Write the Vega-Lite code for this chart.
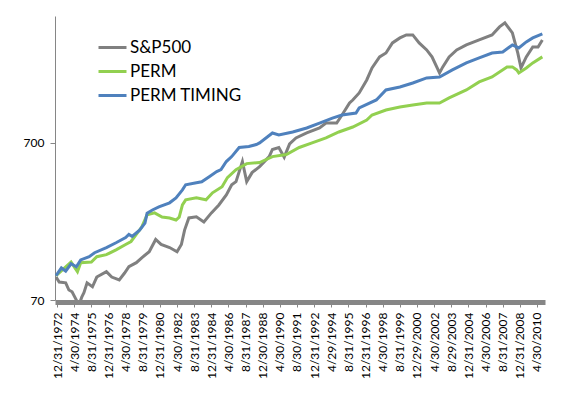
{
  "$schema": "https://vega.github.io/schema/vega-lite/v6.json",
  "width": 490,
  "height": 284,
  "autosize": {"type": "none"},
  "padding": {"left": 55, "top": 16, "right": 21, "bottom": 94},
  "background": "white",
  "config": {"view": {"stroke": null}, "font": "Lato"},
  "data": {"values": [
    {"d": "1972-12-01", "s": "S&P500", "v": 98},
    {"d": "1973-03-01", "s": "S&P500", "v": 91},
    {"d": "1973-09-01", "s": "S&P500", "v": 90},
    {"d": "1973-12-01", "s": "S&P500", "v": 81},
    {"d": "1974-03-01", "s": "S&P500", "v": 79},
    {"d": "1974-07-01", "s": "S&P500", "v": 70},
    {"d": "1974-09-01", "s": "S&P500", "v": 64},
    {"d": "1974-12-01", "s": "S&P500", "v": 73},
    {"d": "1975-02-01", "s": "S&P500", "v": 78},
    {"d": "1975-05-01", "s": "S&P500", "v": 90},
    {"d": "1975-10-01", "s": "S&P500", "v": 85},
    {"d": "1976-02-01", "s": "S&P500", "v": 98},
    {"d": "1976-11-01", "s": "S&P500", "v": 106},
    {"d": "1977-04-01", "s": "S&P500", "v": 98},
    {"d": "1977-11-01", "s": "S&P500", "v": 94},
    {"d": "1978-04-01", "s": "S&P500", "v": 104},
    {"d": "1978-08-01", "s": "S&P500", "v": 114},
    {"d": "1979-03-01", "s": "S&P500", "v": 121},
    {"d": "1979-08-01", "s": "S&P500", "v": 130},
    {"d": "1980-03-01", "s": "S&P500", "v": 142},
    {"d": "1980-09-01", "s": "S&P500", "v": 170},
    {"d": "1981-02-01", "s": "S&P500", "v": 158},
    {"d": "1981-10-01", "s": "S&P500", "v": 151},
    {"d": "1982-05-01", "s": "S&P500", "v": 142},
    {"d": "1982-09-01", "s": "S&P500", "v": 158},
    {"d": "1982-12-01", "s": "S&P500", "v": 195},
    {"d": "1983-04-01", "s": "S&P500", "v": 233},
    {"d": "1983-11-01", "s": "S&P500", "v": 237},
    {"d": "1984-06-01", "s": "S&P500", "v": 220},
    {"d": "1985-01-01", "s": "S&P500", "v": 251},
    {"d": "1985-08-01", "s": "S&P500", "v": 282},
    {"d": "1986-03-01", "s": "S&P500", "v": 327},
    {"d": "1986-08-01", "s": "S&P500", "v": 379},
    {"d": "1986-12-01", "s": "S&P500", "v": 397},
    {"d": "1987-06-01", "s": "S&P500", "v": 533},
    {"d": "1987-10-01", "s": "S&P500", "v": 397},
    {"d": "1988-03-01", "s": "S&P500", "v": 453},
    {"d": "1988-10-01", "s": "S&P500", "v": 495},
    {"d": "1989-07-01", "s": "S&P500", "v": 573},
    {"d": "1989-10-01", "s": "S&P500", "v": 636},
    {"d": "1990-04-01", "s": "S&P500", "v": 655},
    {"d": "1990-09-01", "s": "S&P500", "v": 568},
    {"d": "1991-02-01", "s": "S&P500", "v": 690},
    {"d": "1991-08-01", "s": "S&P500", "v": 753},
    {"d": "1992-06-01", "s": "S&P500", "v": 810},
    {"d": "1993-06-01", "s": "S&P500", "v": 871},
    {"d": "1993-12-01", "s": "S&P500", "v": 937},
    {"d": "1994-10-01", "s": "S&P500", "v": 937},
    {"d": "1995-03-01", "s": "S&P500", "v": 1054},
    {"d": "1995-10-01", "s": "S&P500", "v": 1257},
    {"d": "1996-01-01", "s": "S&P500", "v": 1314},
    {"d": "1996-07-01", "s": "S&P500", "v": 1457},
    {"d": "1997-02-01", "s": "S&P500", "v": 1762},
    {"d": "1997-07-01", "s": "S&P500", "v": 2102},
    {"d": "1998-02-01", "s": "S&P500", "v": 2471},
    {"d": "1998-08-01", "s": "S&P500", "v": 2617},
    {"d": "1999-02-01", "s": "S&P500", "v": 3032},
    {"d": "1999-09-01", "s": "S&P500", "v": 3264},
    {"d": "2000-03-01", "s": "S&P500", "v": 3410},
    {"d": "2000-09-01", "s": "S&P500", "v": 3410},
    {"d": "2001-03-01", "s": "S&P500", "v": 3032},
    {"d": "2001-10-01", "s": "S&P500", "v": 2736},
    {"d": "2002-03-01", "s": "S&P500", "v": 2471},
    {"d": "2002-10-01", "s": "S&P500", "v": 1953},
    {"d": "2003-01-01", "s": "S&P500", "v": 2134},
    {"d": "2003-07-01", "s": "S&P500", "v": 2471},
    {"d": "2004-02-01", "s": "S&P500", "v": 2736},
    {"d": "2004-11-01", "s": "S&P500", "v": 2944},
    {"d": "2005-11-01", "s": "S&P500", "v": 3169},
    {"d": "2006-11-01", "s": "S&P500", "v": 3410},
    {"d": "2007-06-01", "s": "S&P500", "v": 3837},
    {"d": "2007-11-01", "s": "S&P500", "v": 4069},
    {"d": "2008-06-01", "s": "S&P500", "v": 3512},
    {"d": "2008-11-01", "s": "S&P500", "v": 2617},
    {"d": "2009-02-01", "s": "S&P500", "v": 2102},
    {"d": "2009-07-01", "s": "S&P500", "v": 2471},
    {"d": "2010-01-01", "s": "S&P500", "v": 2859},
    {"d": "2010-06-01", "s": "S&P500", "v": 2859},
    {"d": "2010-10-01", "s": "S&P500", "v": 3169},

    {"d": "1972-12-01", "s": "PERM", "v": 100},
    {"d": "1974-02-01", "s": "PERM", "v": 122},
    {"d": "1974-08-01", "s": "PERM", "v": 106},
    {"d": "1974-11-01", "s": "PERM", "v": 121},
    {"d": "1975-09-01", "s": "PERM", "v": 122},
    {"d": "1976-02-01", "s": "PERM", "v": 132},
    {"d": "1976-11-01", "s": "PERM", "v": 136},
    {"d": "1977-08-01", "s": "PERM", "v": 146},
    {"d": "1978-05-01", "s": "PERM", "v": 158},
    {"d": "1978-10-01", "s": "PERM", "v": 165},
    {"d": "1979-03-01", "s": "PERM", "v": 183},
    {"d": "1979-08-01", "s": "PERM", "v": 204},
    {"d": "1980-01-01", "s": "PERM", "v": 244},
    {"d": "1980-08-01", "s": "PERM", "v": 251},
    {"d": "1981-03-01", "s": "PERM", "v": 236},
    {"d": "1981-10-01", "s": "PERM", "v": 233},
    {"d": "1982-04-01", "s": "PERM", "v": 226},
    {"d": "1982-07-01", "s": "PERM", "v": 236},
    {"d": "1982-10-01", "s": "PERM", "v": 282},
    {"d": "1983-01-01", "s": "PERM", "v": 304},
    {"d": "1983-11-01", "s": "PERM", "v": 313},
    {"d": "1984-08-01", "s": "PERM", "v": 304},
    {"d": "1985-02-01", "s": "PERM", "v": 337},
    {"d": "1985-11-01", "s": "PERM", "v": 368},
    {"d": "1986-04-01", "s": "PERM", "v": 421},
    {"d": "1986-12-01", "s": "PERM", "v": 473},
    {"d": "1987-10-01", "s": "PERM", "v": 517},
    {"d": "1988-10-01", "s": "PERM", "v": 525},
    {"d": "1989-10-01", "s": "PERM", "v": 573},
    {"d": "1990-11-01", "s": "PERM", "v": 590},
    {"d": "1991-11-01", "s": "PERM", "v": 655},
    {"d": "1992-11-01", "s": "PERM", "v": 700},
    {"d": "1993-12-01", "s": "PERM", "v": 753},
    {"d": "1994-12-01", "s": "PERM", "v": 822},
    {"d": "1996-01-01", "s": "PERM", "v": 884},
    {"d": "1997-02-01", "s": "PERM", "v": 979},
    {"d": "1997-07-01", "s": "PERM", "v": 1054},
    {"d": "1998-08-01", "s": "PERM", "v": 1134},
    {"d": "1999-09-01", "s": "PERM", "v": 1186},
    {"d": "2000-09-01", "s": "PERM", "v": 1221},
    {"d": "2001-10-01", "s": "PERM", "v": 1257},
    {"d": "2002-10-01", "s": "PERM", "v": 1257},
    {"d": "2003-07-01", "s": "PERM", "v": 1354},
    {"d": "2004-11-01", "s": "PERM", "v": 1522},
    {"d": "2005-11-01", "s": "PERM", "v": 1711},
    {"d": "2006-11-01", "s": "PERM", "v": 1841},
    {"d": "2008-01-01", "s": "PERM", "v": 2134},
    {"d": "2008-06-01", "s": "PERM", "v": 2134},
    {"d": "2008-10-01", "s": "PERM", "v": 2042},
    {"d": "2008-12-01", "s": "PERM", "v": 1953},
    {"d": "2009-07-01", "s": "PERM", "v": 2102},
    {"d": "2010-01-01", "s": "PERM", "v": 2263},
    {"d": "2010-10-01", "s": "PERM", "v": 2471},

    {"d": "1972-12-01", "s": "PERM TIMING", "v": 100},
    {"d": "1973-05-01", "s": "PERM TIMING", "v": 112},
    {"d": "1973-09-01", "s": "PERM TIMING", "v": 107},
    {"d": "1974-02-01", "s": "PERM TIMING", "v": 119},
    {"d": "1974-07-01", "s": "PERM TIMING", "v": 114},
    {"d": "1974-11-01", "s": "PERM TIMING", "v": 126},
    {"d": "1975-07-01", "s": "PERM TIMING", "v": 132},
    {"d": "1975-12-01", "s": "PERM TIMING", "v": 140},
    {"d": "1976-11-01", "s": "PERM TIMING", "v": 151},
    {"d": "1977-08-01", "s": "PERM TIMING", "v": 162},
    {"d": "1978-05-01", "s": "PERM TIMING", "v": 175},
    {"d": "1978-08-01", "s": "PERM TIMING", "v": 183},
    {"d": "1978-11-01", "s": "PERM TIMING", "v": 178},
    {"d": "1979-06-01", "s": "PERM TIMING", "v": 195},
    {"d": "1979-11-01", "s": "PERM TIMING", "v": 216},
    {"d": "1980-01-01", "s": "PERM TIMING", "v": 250},
    {"d": "1980-06-01", "s": "PERM TIMING", "v": 262},
    {"d": "1980-12-01", "s": "PERM TIMING", "v": 274},
    {"d": "1981-10-01", "s": "PERM TIMING", "v": 291},
    {"d": "1982-04-01", "s": "PERM TIMING", "v": 313},
    {"d": "1982-10-01", "s": "PERM TIMING", "v": 352},
    {"d": "1983-01-01", "s": "PERM TIMING", "v": 379},
    {"d": "1983-11-01", "s": "PERM TIMING", "v": 391},
    {"d": "1984-04-01", "s": "PERM TIMING", "v": 396},
    {"d": "1984-11-01", "s": "PERM TIMING", "v": 427},
    {"d": "1985-06-01", "s": "PERM TIMING", "v": 460},
    {"d": "1985-10-01", "s": "PERM TIMING", "v": 473},
    {"d": "1986-03-01", "s": "PERM TIMING", "v": 533},
    {"d": "1986-08-01", "s": "PERM TIMING", "v": 573},
    {"d": "1987-03-01", "s": "PERM TIMING", "v": 655},
    {"d": "1987-12-01", "s": "PERM TIMING", "v": 664},
    {"d": "1988-07-01", "s": "PERM TIMING", "v": 684},
    {"d": "1988-10-01", "s": "PERM TIMING", "v": 700},
    {"d": "1989-10-01", "s": "PERM TIMING", "v": 810},
    {"d": "1990-04-01", "s": "PERM TIMING", "v": 787},
    {"d": "1991-05-01", "s": "PERM TIMING", "v": 822},
    {"d": "1992-06-01", "s": "PERM TIMING", "v": 871},
    {"d": "1993-06-01", "s": "PERM TIMING", "v": 937},
    {"d": "1994-06-01", "s": "PERM TIMING", "v": 1008},
    {"d": "1995-03-01", "s": "PERM TIMING", "v": 1054},
    {"d": "1996-04-01", "s": "PERM TIMING", "v": 1085},
    {"d": "1996-07-01", "s": "PERM TIMING", "v": 1168},
    {"d": "1997-11-01", "s": "PERM TIMING", "v": 1314},
    {"d": "1998-08-01", "s": "PERM TIMING", "v": 1522},
    {"d": "1999-09-01", "s": "PERM TIMING", "v": 1591},
    {"d": "2000-09-01", "s": "PERM TIMING", "v": 1686},
    {"d": "2001-10-01", "s": "PERM TIMING", "v": 1815},
    {"d": "2002-10-01", "s": "PERM TIMING", "v": 1841},
    {"d": "2003-10-01", "s": "PERM TIMING", "v": 2042},
    {"d": "2004-11-01", "s": "PERM TIMING", "v": 2263},
    {"d": "2005-11-01", "s": "PERM TIMING", "v": 2435},
    {"d": "2006-11-01", "s": "PERM TIMING", "v": 2617},
    {"d": "2007-09-01", "s": "PERM TIMING", "v": 2656},
    {"d": "2008-06-01", "s": "PERM TIMING", "v": 2944},
    {"d": "2008-12-01", "s": "PERM TIMING", "v": 2817},
    {"d": "2009-07-01", "s": "PERM TIMING", "v": 3077},
    {"d": "2010-01-01", "s": "PERM TIMING", "v": 3264},
    {"d": "2010-10-01", "s": "PERM TIMING", "v": 3461}
  ]},
  "mark": {"type": "line", "strokeWidth": 3, "clip": true},
  "encoding": {
    "x": {
      "field": "d", "type": "temporal",
      "scale": {"type": "utc", "domain": [{"year": 1972, "month": 11, "date": 1, "utc": true}, {"year": 2010, "month": 12, "date": 15, "utc": true}]},
      "axis": {
        "title": null, "grid": false, "offset": 2,
        "values": [
          {"year": 1972, "month": 12, "date": 31, "utc": true},
          {"year": 1974, "month": 4, "date": 30, "utc": true},
          {"year": 1975, "month": 8, "date": 31, "utc": true},
          {"year": 1976, "month": 12, "date": 31, "utc": true},
          {"year": 1978, "month": 4, "date": 30, "utc": true},
          {"year": 1979, "month": 8, "date": 31, "utc": true},
          {"year": 1980, "month": 12, "date": 31, "utc": true},
          {"year": 1982, "month": 4, "date": 30, "utc": true},
          {"year": 1983, "month": 8, "date": 31, "utc": true},
          {"year": 1984, "month": 12, "date": 31, "utc": true},
          {"year": 1986, "month": 4, "date": 30, "utc": true},
          {"year": 1987, "month": 8, "date": 31, "utc": true},
          {"year": 1988, "month": 12, "date": 30, "utc": true},
          {"year": 1990, "month": 4, "date": 30, "utc": true},
          {"year": 1991, "month": 8, "date": 30, "utc": true},
          {"year": 1992, "month": 12, "date": 31, "utc": true},
          {"year": 1994, "month": 4, "date": 29, "utc": true},
          {"year": 1995, "month": 8, "date": 31, "utc": true},
          {"year": 1996, "month": 12, "date": 31, "utc": true},
          {"year": 1998, "month": 4, "date": 30, "utc": true},
          {"year": 1999, "month": 8, "date": 31, "utc": true},
          {"year": 2000, "month": 12, "date": 29, "utc": true},
          {"year": 2002, "month": 4, "date": 30, "utc": true},
          {"year": 2003, "month": 8, "date": 29, "utc": true},
          {"year": 2004, "month": 12, "date": 31, "utc": true},
          {"year": 2006, "month": 4, "date": 30, "utc": true},
          {"year": 2007, "month": 8, "date": 31, "utc": true},
          {"year": 2008, "month": 12, "date": 31, "utc": true},
          {"year": 2010, "month": 4, "date": 30, "utc": true}
        ],
        "format": "%-m/%-d/%Y",
        "labelAngle": -90, "labelFont": "Lato", "labelFontSize": 12, "labelColor": "#000000",
        "labelPadding": 5, "labelOverlap": false, "labelFlush": false, "labelBound": false,
        "domainColor": "#868686", "domainWidth": 5,
        "tickColor": "#868686", "tickSize": 5, "tickWidth": 1
      }
    },
    "y": {
      "field": "v", "type": "quantitative",
      "scale": {"type": "log", "domain": [70, 4500], "nice": false},
      "axis": {
        "title": null, "grid": false, "values": [70, 700], "format": "d",
        "labelFont": "Lato", "labelFontSize": 12, "labelColor": "#000000", "labelPadding": 6,
        "domainColor": "#868686", "tickColor": "#868686", "tickSize": 5
      }
    },
    "color": {
      "field": "s", "type": "nominal",
      "scale": {"domain": ["S&P500", "PERM", "PERM TIMING"], "range": ["#808080", "#92D050", "#4F81BD"]},
      "legend": {
        "orient": "none", "legendX": 42, "legendY": 16, "title": null,
        "symbolType": "stroke", "symbolSize": 784, "symbolStrokeWidth": 3,
        "labelFont": "Lato", "labelFontSize": 17, "labelColor": "#000000", "labelOffset": 2,
        "rowPadding": -2, "padding": 0, "offset": 0
      }
    }
  }
}
